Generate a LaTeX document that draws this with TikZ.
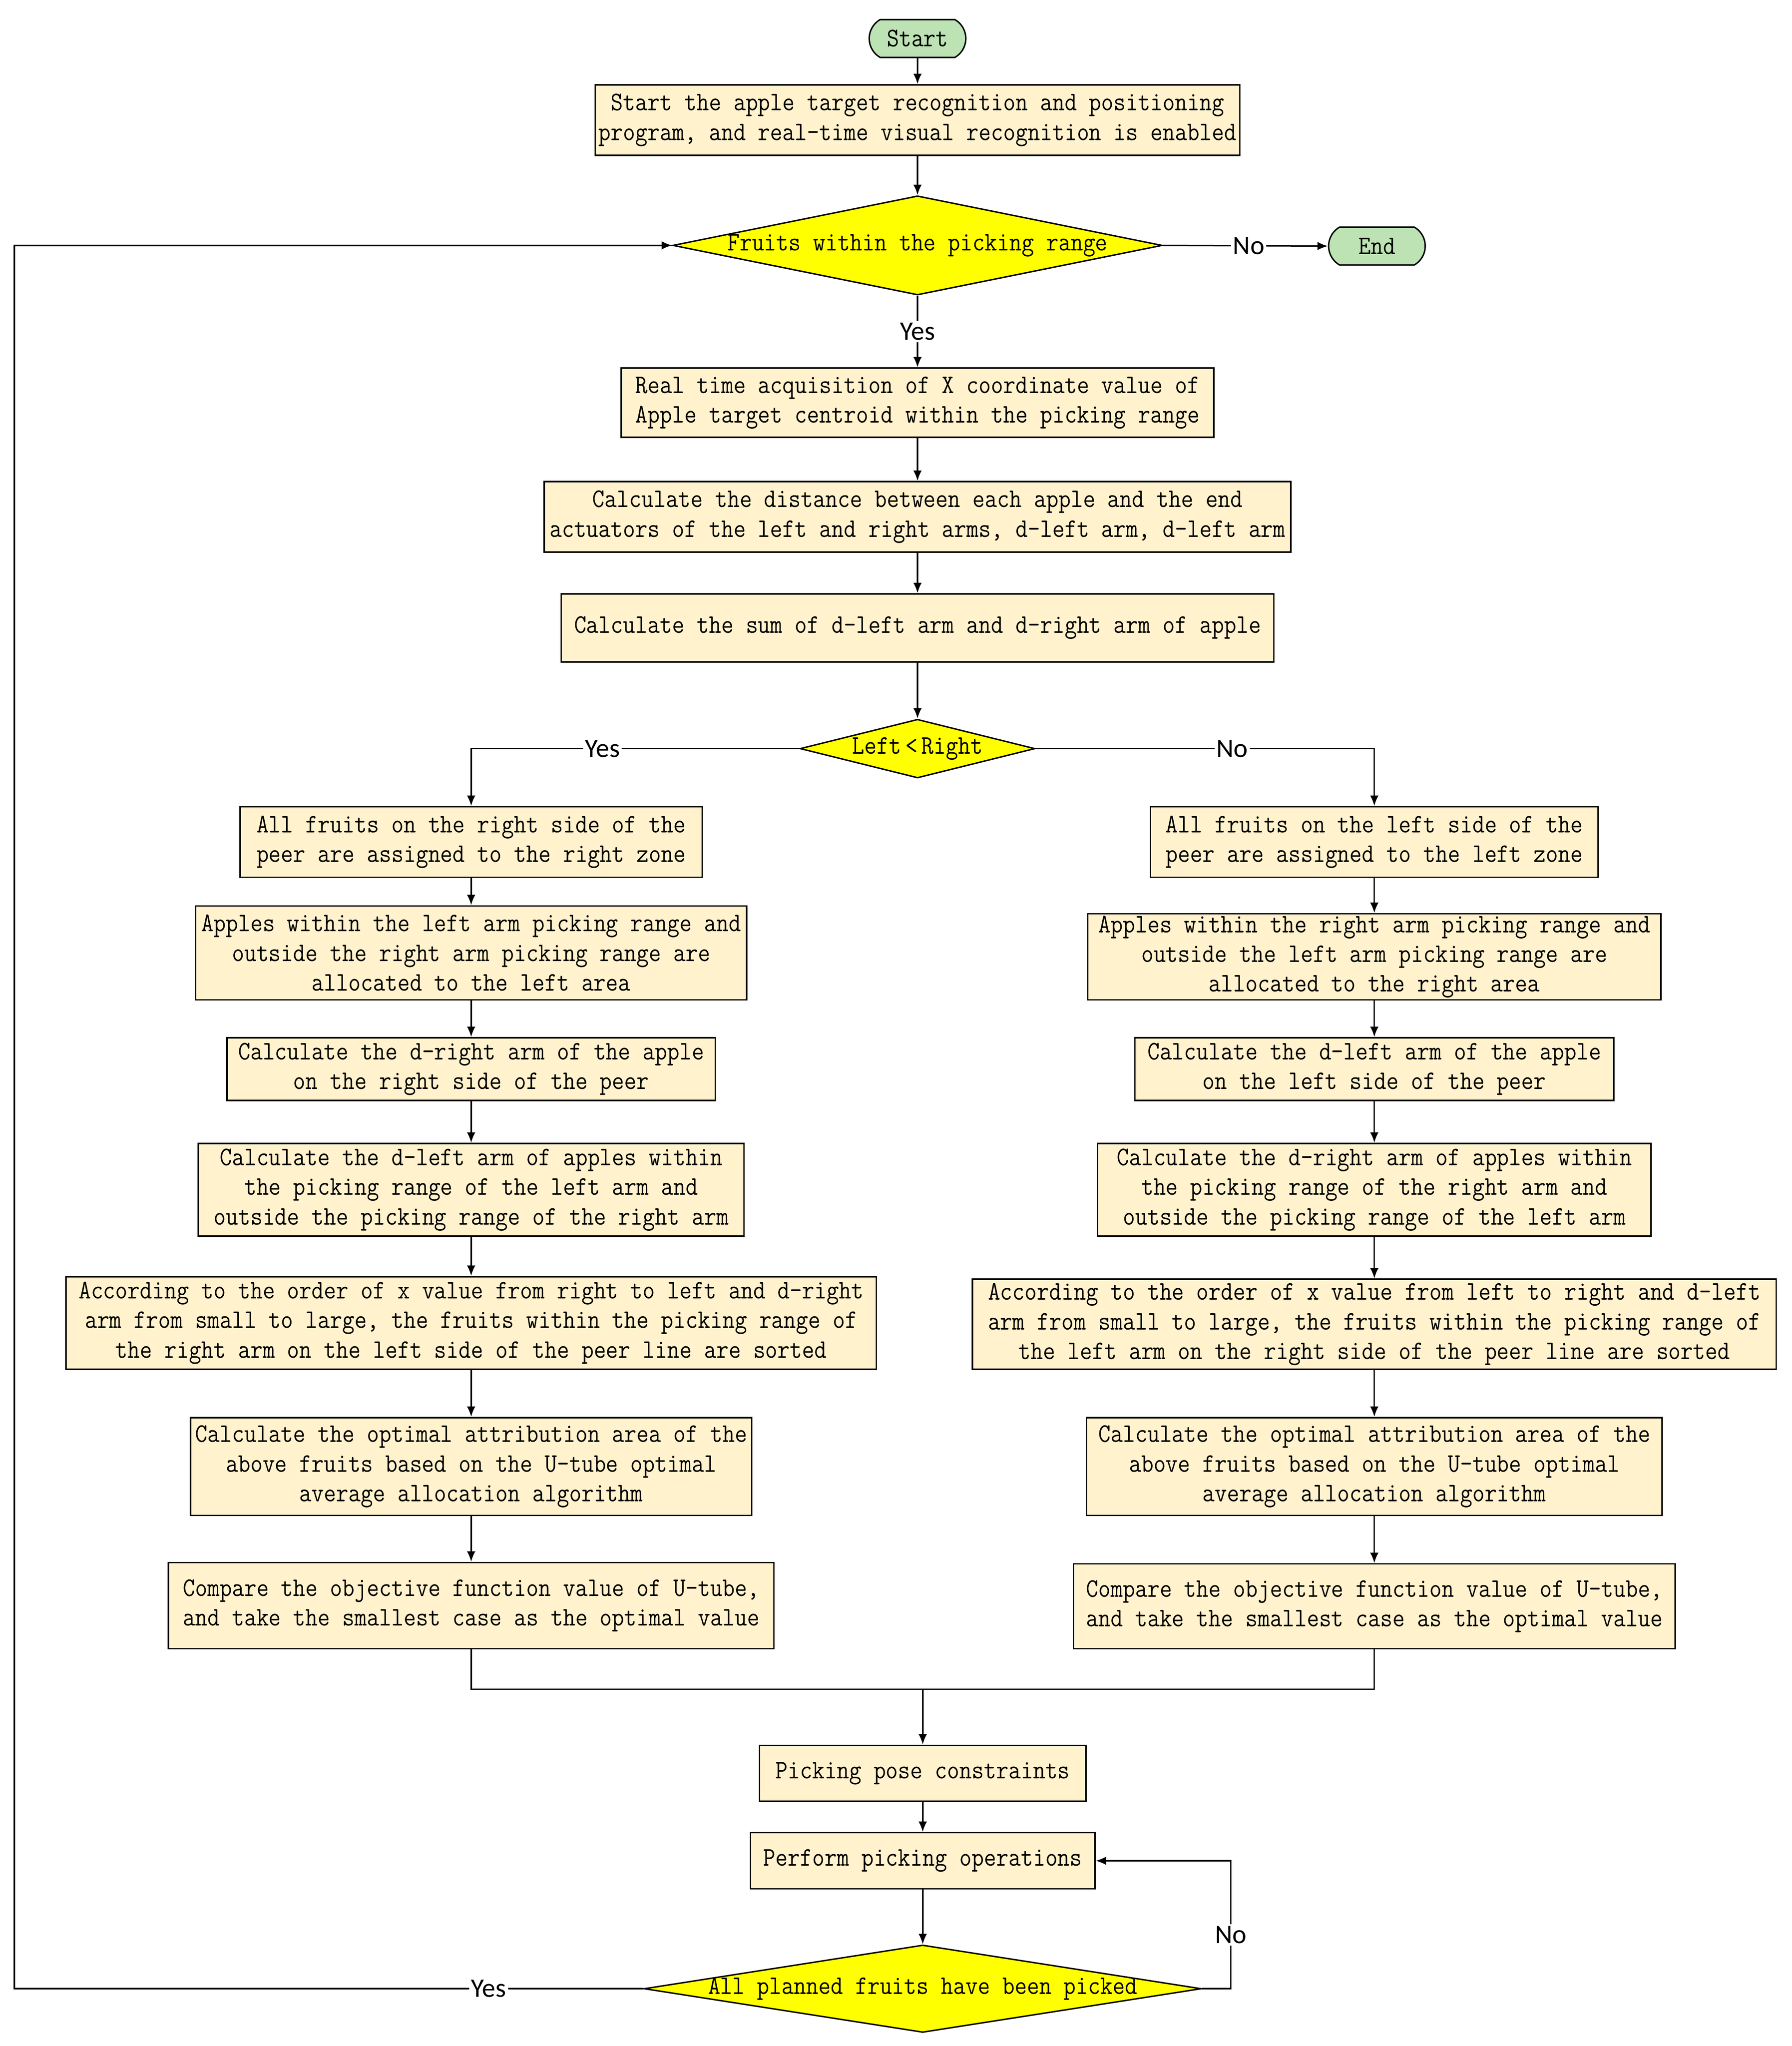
\documentclass[tikz,border=0pt]{standalone}
\usepackage{fontspec}
\usetikzlibrary{arrows.meta,shapes.geometric,shapes.misc}
\newfontfamily\boxfont[FakeStretch=0.89]{Latin Modern Mono}
\newfontfamily\lblfont{Carlito}
\definecolor{boxfill}{RGB}{255,242,204}
\definecolor{dyellow}{RGB}{255,255,0}
\definecolor{tgreen}{RGB}{189,226,180}
\begin{document}
\begin{tikzpicture}[x=1bp,y=-1bp,
  every node/.style={font=\boxfont\fontsize{20.5bp}{22.7bp}\selectfont},
  proc/.style={draw, line width=1.1bp, fill=boxfill, rectangle, inner sep=0pt, align=center},
  dec/.style={draw, line width=1.1bp, fill=dyellow, diamond, inner sep=0pt},
  term/.style={draw, line width=1.1bp, fill=tgreen, rounded rectangle, rounded rectangle arc length=120, inner sep=0pt},
  arr/.style={line width=1.1bp, -{Latex[length=8bp,width=6.5bp]}},
  ln/.style={line width=1.1bp},
  lbl/.style={fill=white, inner sep=1.5bp, font=\lblfont\fontsize{20.5bp}{22bp}\selectfont},
]
\useasboundingbox (0,0) rectangle (1373,1567.4);

% main column
\node[term, minimum width=74bp, minimum height=29bp] (start) at (703,29.5) {Start};
\node[proc, minimum width=494bp, minimum height=54bp] (b1) at (703,92) {Start the apple target recognition and positioning\\program, and real-time visual recognition is enabled};
\node[dec, minimum width=375bp, minimum height=76bp] (d1) at (703,188) {\makebox[0pt]{Fruits within the picking range}};
\node[term, minimum width=74bp, minimum height=29bp] (end) at (1055,188.5) {End};
\node[proc, minimum width=454bp, minimum height=53bp] (b2) at (703,308.5) {Real time acquisition of X coordinate value of\\Apple target centroid within the picking range};
\node[proc, minimum width=572bp, minimum height=54bp] (b3) at (703,396) {Calculate the distance between each apple and the end\\actuators of the left and right arms, d-left arm, d-left arm};
\node[proc, minimum width=546bp, minimum height=52bp] (b4) at (703,481) {Calculate the sum of d-left arm and d-right arm of apple};
\node[dec, minimum width=180bp, minimum height=45bp] (d2) at (703,573.5) {\makebox[0pt]{Left\hspace{3bp}<\hspace{3bp}Right}};

% left column
\node[proc, minimum width=354bp, minimum height=54bp] (L1) at (361,645) {All fruits on the right side of the\\peer are assigned to the right zone};
\node[proc, minimum width=422bp, minimum height=72bp] (L2) at (361,730) {Apples within the left arm picking range and\\outside the right arm picking range are\\allocated to the left area};
\node[proc, minimum width=374bp, minimum height=48bp] (L3) at (361,819) {Calculate the d-right arm of the apple\\on the right side of the peer};
\node[proc, minimum width=418bp, minimum height=71bp] (L4) at (361,911.5) {Calculate the d-left arm of apples within\\the picking range of the left arm and\\outside the picking range of the right arm};
\node[proc, minimum width=621bp, minimum height=71bp] (L5) at (361,1013.5) {According to the order of x value from right to left and d-right\\arm from small to large, the fruits within the picking range of\\the right arm on the left side of the peer line are sorted};
\node[proc, minimum width=430bp, minimum height=75bp] (L6) at (361,1123.5) {Calculate the optimal attribution area of the\\above fruits based on the U-tube optimal\\average allocation algorithm};
\node[proc, minimum width=464bp, minimum height=66bp] (L7) at (361,1230) {Compare the objective function value of U-tube,\\and take the smallest case as the optimal value};

% right column
\node[proc, minimum width=343bp, minimum height=54bp] (R1) at (1053,645) {All fruits on the left side of the\\peer are assigned to the left zone};
\node[proc, minimum width=439bp, minimum height=66bp] (R2) at (1053,733) {Apples within the right arm picking range and\\outside the left arm picking range are\\allocated to the right area};
\node[proc, minimum width=367bp, minimum height=48bp] (R3) at (1053,819) {Calculate the d-left arm of the apple\\on the left side of the peer};
\node[proc, minimum width=424bp, minimum height=71bp] (R4) at (1053,911.5) {Calculate the d-right arm of apples within\\the picking range of the right arm and\\outside the picking range of the left arm};
\node[proc, minimum width=616bp, minimum height=69bp] (R5) at (1053,1014.5) {According to the order of x value from left to right and d-left\\arm from small to large, the fruits within the picking range of\\the left arm on the right side of the peer line are sorted};
\node[proc, minimum width=441bp, minimum height=75bp] (R6) at (1053,1123.5) {Calculate the optimal attribution area of the\\above fruits based on the U-tube optimal\\average allocation algorithm};
\node[proc, minimum width=461bp, minimum height=65bp] (R7) at (1053,1230.5) {Compare the objective function value of U-tube,\\and take the smallest case as the optimal value};

% bottom
\node[proc, minimum width=250bp, minimum height=43bp] (P1) at (707,1358.5) {Picking pose constraints};
\node[proc, minimum width=264bp, minimum height=43bp] (P2) at (707,1425.5) {Perform picking operations};
\node[dec, minimum width=427bp, minimum height=67bp] (D3) at (707,1523.5) {\makebox[0pt]{All planned fruits have been picked}};

\coordinate (m) at (707,1294);
\coordinate (nr) at (943,1523.5);
\coordinate (yl) at (11,1523.5);

% connectors
\draw[arr] (start) -- (b1);
\draw[arr] (b1) -- (d1);
\draw[arr] (d1.east) -- node[lbl, pos=0.52]{No} (end.west);
\draw[arr] (d1.south) -- node[lbl]{Yes} (b2.north);
\draw[arr] (b2) -- (b3);
\draw[arr] (b3) -- (b4);
\draw[arr] (b4) -- (d2);
\draw[arr] (d2.west) -| node[lbl, pos=0.3]{Yes} (L1.north);
\draw[arr] (d2.east) -| node[lbl, pos=0.29]{No} (R1.north);
\draw[arr] (L1) -- (L2);
\draw[arr] (L2) -- (L3);
\draw[arr] (L3) -- (L4);
\draw[arr] (L4) -- (L5);
\draw[arr] (L5) -- (L6);
\draw[arr] (L6) -- (L7);
\draw[arr] (R1) -- (R2);
\draw[arr] (R2) -- (R3);
\draw[arr] (R3) -- (R4);
\draw[arr] (R4) -- (R5);
\draw[arr] (R5) -- (R6);
\draw[arr] (R6) -- (R7);
\draw[ln] (L7.south) |- (m);
\draw[ln] (R7.south) |- (m);
\draw[arr] (m) -- (P1.north);
\draw[arr] (P1) -- (P2);
\draw[arr] (P2) -- (D3);
\draw[arr] (D3.east) -- (nr) |- node[lbl, pos=0.21]{No} (P2.east);
\draw[arr] (D3.west) -- node[lbl, pos=0.246]{Yes} (yl) |- (d1.west);
\end{tikzpicture}
\end{document}
